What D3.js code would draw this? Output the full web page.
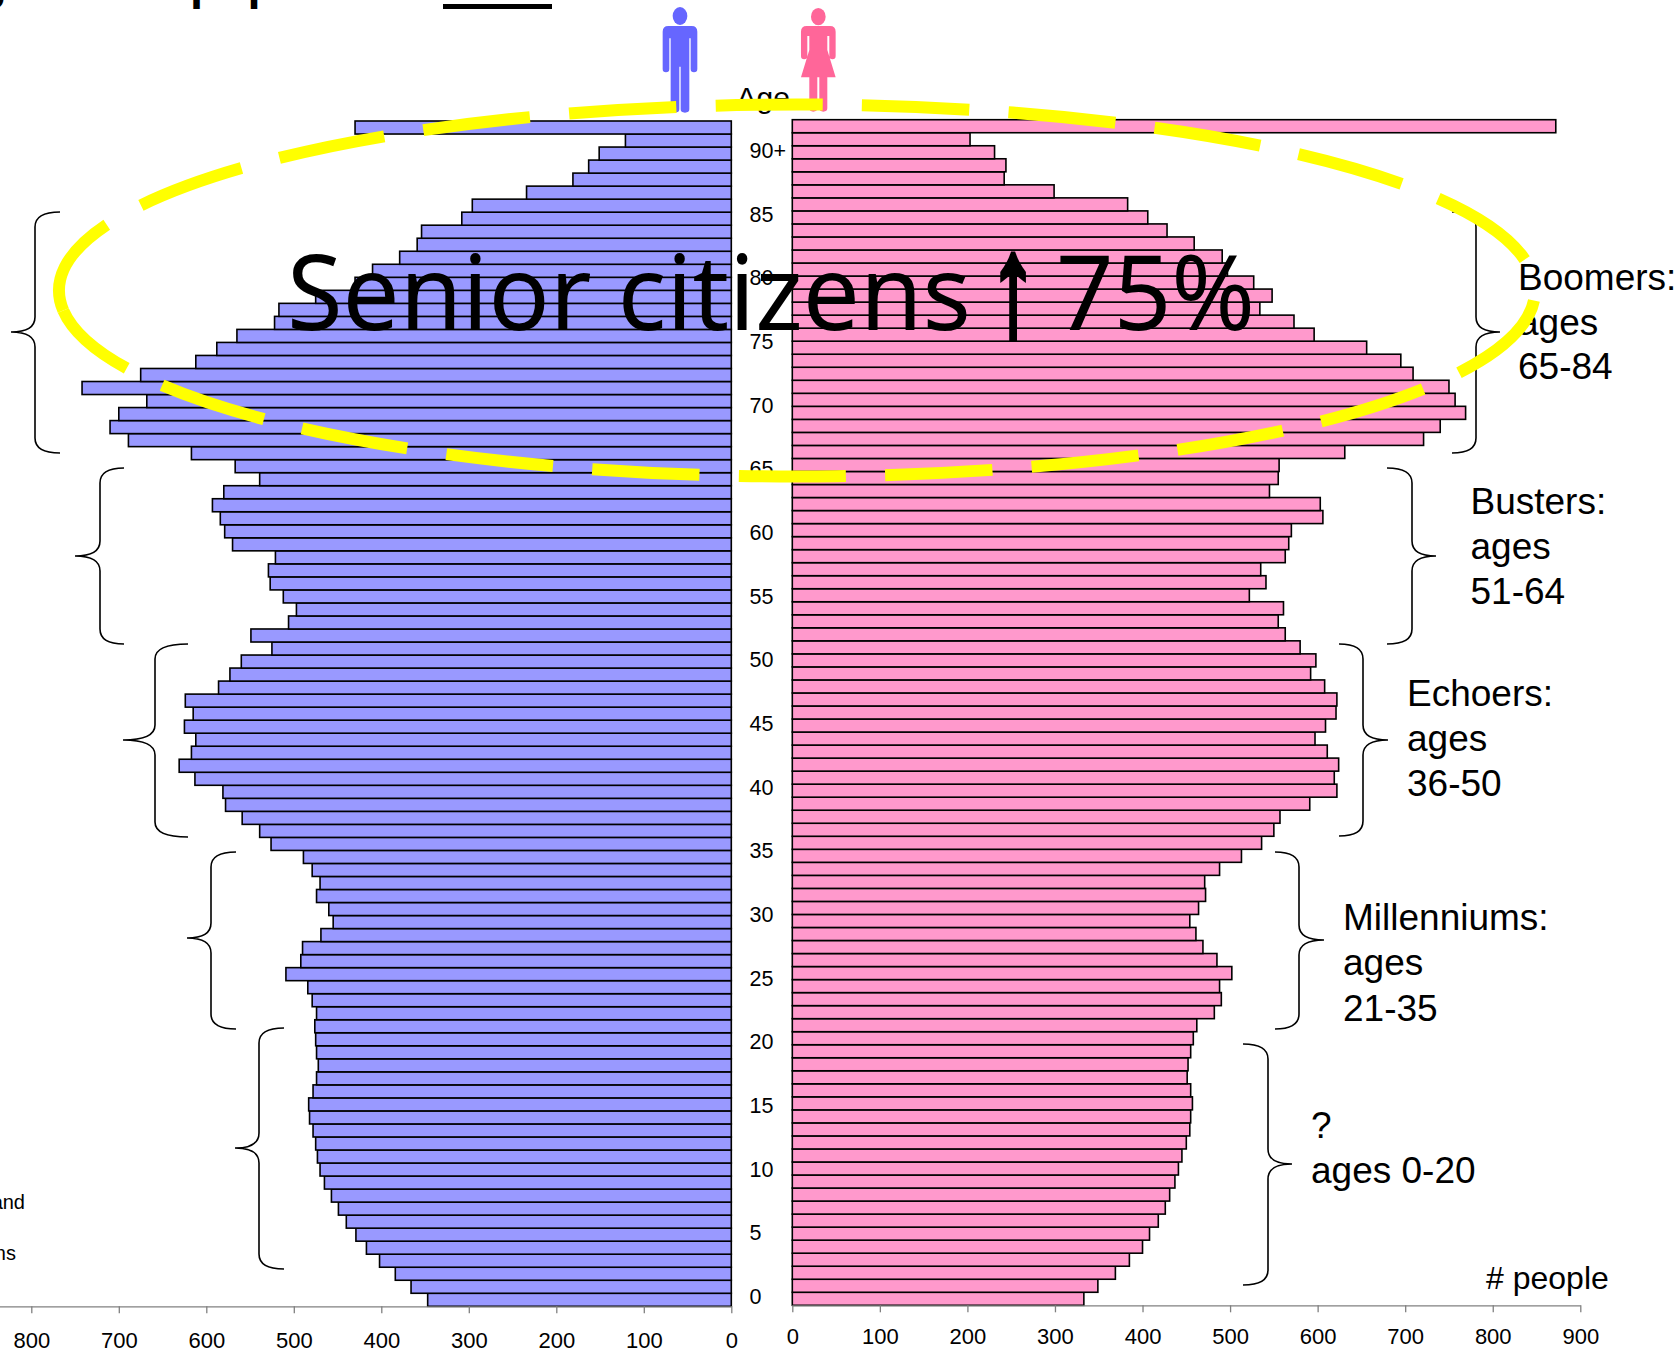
<!DOCTYPE html>
<html>
<head>
<meta charset="utf-8">
<script src="https://cdnjs.cloudflare.com/ajax/libs/d3/7.8.5/d3.min.js"></script>
<style>
  html, body { margin: 0; padding: 0; background: #fff; overflow: hidden; }
  svg { display: block; }
  text { font-family: "Liberation Sans", Arial, sans-serif; fill: #000; }
</style>
</head>
<body>
<script>
// Values. Index 0 is age 0, last index is the top bar.
const ages = d3.range(0, 91);
const male = [347, 366, 384, 402, 417, 429, 440, 449, 457, 465,
  470, 473, 475, 478, 482, 483, 478, 474, 472, 474,
  475, 476, 474, 479, 484, 509, 492, 490, 469, 455,
  460, 474, 470, 479, 489, 526, 539, 559, 578, 581,
  613, 631, 617, 612, 625, 615, 624, 586, 573, 560,
  525, 549, 506, 497, 512, 527, 529, 521, 570, 579,
  584, 593, 580, 539, 567, 617, 689, 710, 700, 668,
  742, 675, 612, 588, 565, 522, 517, 475, 430, 410,
  379, 359, 354, 308, 296, 234, 181, 163, 151, 121, 430];
const female = [333, 349, 369, 385, 400, 408, 418, 426, 431, 437,
  441, 445, 450, 454, 455, 457, 455, 451, 452, 455,
  458, 462, 482, 490, 488, 502, 485, 469, 461, 454,
  464, 472, 471, 488, 513, 536, 550, 557, 591, 622,
  619, 624, 611, 597, 609, 621, 622, 608, 592, 598,
  580, 563, 555, 561, 522, 541, 535, 563, 567, 570,
  606, 603, 545, 555, 556, 631, 721, 740, 769, 757,
  750, 709, 695, 656, 596, 573, 534, 548, 527, 497,
  491, 459, 428, 406, 383, 299, 242, 244, 231, 203, 872];
const xTicks = [0, 100, 200, 300, 400, 500, 600, 700, 800, 900];
const ageTicks = [0, 5, 10, 15, 20, 25, 30, 35, 40, 45, 50, 55, 60, 65, 70, 75, 80, 85, 90];

const width = 1676, height = 1356;
const svg = d3.select("body").append("svg").attr("width", width).attr("height", height);

// --- Scales ---
const xLeft = d3.scaleLinear().domain([0, 900]).range([731.3, -56.2]);
const xRight = d3.scaleLinear().domain([0, 900]).range([792.3, 1580.3]);
const yLeft = d3.scaleBand().domain(ages).range([1306.3, 121]);
const yRight = d3.scaleBand().domain(ages).range([1305.3, 119.7]);
// the age labels are on their own spacing in the original, slightly tighter than the rows
const yAge = d3.scaleLinear().domain([0, 90]).range([1304, 158]);

// --- Bars ---
svg.append("g").selectAll("rect").data(ages).join("rect")
  .attr("x", d => xLeft(male[d]))
  .attr("y", d => yLeft(d))
  .attr("width", d => xLeft(0) - xLeft(male[d]))
  .attr("height", yLeft.bandwidth())
  .attr("fill", "#9999ff").attr("stroke", "#000").attr("stroke-width", 1.6);

svg.append("g").selectAll("rect").data(ages).join("rect")
  .attr("x", xRight(0))
  .attr("y", d => yRight(d))
  .attr("width", d => xRight(female[d]) - xRight(0))
  .attr("height", yRight.bandwidth())
  .attr("fill", "#ff99cc").attr("stroke", "#000").attr("stroke-width", 1.6);

// --- Axes ---
function styleAxis(g, dy) {
  g.selectAll("path,line").attr("stroke", "#808080").attr("stroke-width", 1.3);
  g.selectAll("text").attr("font-size", 22).attr("font-family", "Liberation Sans").attr("dy", dy);
}
svg.append("g").attr("transform", "translate(0,1306.3)")
  .call(d3.axisBottom(xLeft).tickValues(xTicks).tickSize(7).tickSizeOuter(0).tickPadding(0))
  .call(g => styleAxis(g, 34.5));
svg.append("g").attr("transform", "translate(0,1305.3)")
  .call(d3.axisBottom(xRight).tickValues(xTicks).tickSize(7).tickSizeOuter(0).tickPadding(0))
  .call(g => styleAxis(g, 31.5));

// --- Age labels ---
svg.append("g").selectAll("text").data(ageTicks).join("text")
  .attr("x", 749.5).attr("y", d => yAge(d))
  .attr("font-size", 21.5)
  .text(d => d === 90 ? "90+" : d);
svg.append("text").attr("x", 736.5).attr("y", 108).attr("font-size", 30).text("Age");

// --- Man and woman icons ---
const man = svg.append("g").attr("transform", "translate(600,0) scale(0.3333)").attr("fill", "#6666ff");
man.append("ellipse").attr("cx", 240).attr("cy", 48).attr("rx", 22).attr("ry", 27);
man.append("path").attr("d", "M205,78 H275 Q292,78 292,95 V207 a10,10 0 0 1 -20,0 V115 H268 V328 a13,10 0 0 1 -26,0 V200 H238 V328 a13,10 0 0 1 -26,0 V115 H208 V207 a10,10 0 0 1 -20,0 V95 Q188,78 205,78 Z");
const woman = svg.append("g").attr("transform", "translate(600,0) scale(0.3333)").attr("fill", "#ff6699");
woman.append("ellipse").attr("cx", 655).attr("cy", 50).attr("rx", 22).attr("ry", 26);
woman.append("path").attr("d", "M620,78 H690 Q707,78 707,95 V168 a9.5,9.5 0 0 1 -19,0 V108 H682 V150 L707,232 H682 V325 a12,10 0 0 1 -24,0 V232 H652 V325 a12,10 0 0 1 -24,0 V232 H603 L628,150 V108 H622 V168 a9.5,9.5 0 0 1 -19,0 V95 Q603,78 620,78 Z");

// --- Generation braces: [tip, spine, end, top, mid, bottom] ---
const braces = [
  [11, 35, 60, 212, 332, 453], [75, 100, 124, 468, 556, 644], [123, 155, 188, 644, 740, 837],
  [187, 211, 236, 852, 938, 1029], [235, 259, 284, 1028, 1148, 1269],
  [1500, 1476, 1452, 212, 332, 453], [1436, 1412, 1387, 468, 556, 644], [1388, 1363, 1339, 644, 740, 836],
  [1324, 1299, 1275, 852, 940, 1029], [1292, 1268, 1243, 1044, 1164, 1285]
];
const bracePath = ([tip, spine, end, top, mid, bottom]) => {
  const p = d3.path();
  p.moveTo(end, top);
  p.quadraticCurveTo(spine, top, spine, top + 15);
  p.lineTo(spine, mid - 15);
  p.quadraticCurveTo(spine, mid, tip, mid);
  p.quadraticCurveTo(spine, mid, spine, mid + 15);
  p.lineTo(spine, bottom - 15);
  p.quadraticCurveTo(spine, bottom, end, bottom);
  return p.toString();
};
svg.append("g").selectAll("path").data(braces).join("path")
  .attr("d", bracePath).attr("fill", "none").attr("stroke", "#000").attr("stroke-width", 1.6);

// --- Generation labels ---
const groupLabels = [
  [1518, 290, "Boomers:"], [1518, 335, "ages"], [1518, 379, "65-84"],
  [1470.5, 514, "Busters:"], [1470.5, 559, "ages"], [1470.5, 604, "51-64"],
  [1407, 706, "Echoers:"], [1407, 751, "ages"], [1407, 796, "36-50"],
  [1343, 930, "Millenniums:"], [1343, 975, "ages"], [1343, 1021, "21-35"],
  [1311, 1138, "?"], [1311, 1183, "ages 0-20"]
];
svg.append("g").selectAll("text").data(groupLabels).join("text")
  .attr("x", d => d[0]).attr("y", d => d[1]).attr("font-size", 37).text(d => d[2]);
svg.append("text").attr("x", 1486).attr("y", 1289).attr("font-size", 32).text("# people");

// --- Clipped text at the edges of the slide ---
svg.append("text").attr("x", 25).attr("y", 1209).attr("font-size", 20).attr("text-anchor", "end").text("and");
svg.append("text").attr("x", 16).attr("y", 1260).attr("font-size", 20).attr("text-anchor", "end").text("ons");

// the slide title is cut off by the top edge, only the descenders show
const title = svg.append("text").attr("y", -1).attr("font-size", 47).attr("font-weight", "bold");
title.append("tspan").attr("x", -22).text("g");
title.append("tspan").attr("x", 12).text("resident");
title.append("tspan").attr("x", 190).text("population");
title.append("tspan").attr("x", 443).text("2030");
svg.append("line").attr("x1", 443).attr("x2", 552).attr("y1", 6.5).attr("y2", 6.5)
  .attr("stroke", "#000").attr("stroke-width", 5);

// --- Yellow dashed ellipse: two arcs, the dash pattern restarts near the left end ---
const cx = 797, cy = 290.5, rx = 738, ry = 186;
const seamX = cx - rx * Math.sqrt(1 - (20 / ry) ** 2);
const yellow = svg.append("g").attr("fill", "none").attr("stroke", "#ffff00").attr("stroke-width", 12);
yellow.append("path")
  .attr("d", `M${cx + rx},${cy} A${rx},${ry} 0 0 1 ${seamX},${cy + 20}`)
  .attr("stroke-dasharray", "107.3 39.3").attr("stroke-dashoffset", -10);
yellow.append("path")
  .attr("d", `M${seamX},${cy + 20} A${rx},${ry} 0 1 1 ${cx + rx},${cy}`)
  .attr("stroke-dasharray", "107.3 39.3").attr("stroke-dashoffset", 2);

// --- Callout ---
svg.append("text").attr("x", 287).attr("y", 330).attr("font-size", 105)
  .attr("textLength", 684).attr("lengthAdjust", "spacingAndGlyphs")
  .style("font-family", "'Noto Sans'").text("Senior citizens");
svg.append("text").attr("transform", "translate(1013,335) scale(0.65,1)")
  .attr("font-size", 143).attr("text-anchor", "middle").attr("font-weight", "bold")
  .attr("stroke", "#000").attr("stroke-width", 6).text("↑");
svg.append("text").attr("x", 1056).attr("y", 330).attr("font-size", 105)
  .attr("textLength", 199).attr("lengthAdjust", "spacingAndGlyphs")
  .style("font-family", "'Noto Sans'").text("75%");
</script>
</body>
</html>
